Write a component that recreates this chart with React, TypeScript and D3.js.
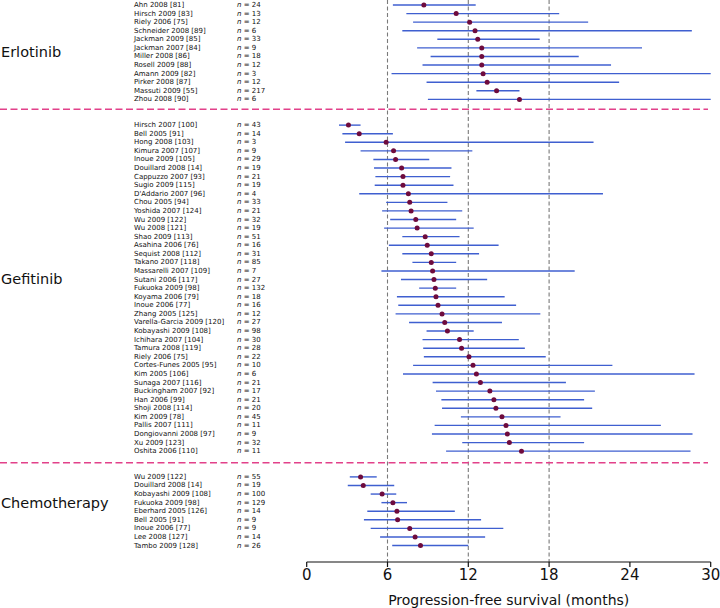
import React from "react";
import * as d3 from "d3";

const erlotinibStudies = ["Ahn 2008 [81]", "Hirsch 2009 [83]", "Riely 2006 [75]", "Schneider 2008 [89]", "Jackman 2009 [85]", "Jackman 2007 [84]", "Miller 2008 [86]", "Rosell 2009 [88]", "Amann 2009 [82]", "Pirker 2008 [87]", "Massuti 2009 [55]", "Zhou 2008 [90]"];
const erlotinibN = [24, 13, 12, 6, 33, 9, 18, 12, 3, 12, 217, 6];
const erlotinibPFS = [8.7, 11.1, 12.1, 12.5, 12.7, 13.0, 13.0, 13.0, 13.1, 13.4, 14.1, 15.8];
const erlotinibLow = [6.4, 7.4, 7.9, 7.1, 9.7, 8.2, 9.2, 8.6, 6.3, 8.9, 12.6, 9.0];
const erlotinibHigh = [12.55, 18.75, 20.9, 28.6, 17.3, 24.9, 20.2, 22.6, 30, 23.2, 15.8, 30];

const gefitinibStudies = ["Hirsch 2007 [100]", "Bell 2005 [91]", "Hong 2008 [103]", "Kimura 2007 [107]", "Inoue 2009 [105]", "Douillard 2008 [14]", "Cappuzzo 2007 [93]", "Sugio 2009 [115]", "D'Addario 2007 [96]", "Chou 2005 [94]", "Yoshida 2007 [124]", "Wu 2009 [122]", "Wu 2008 [121]", "Shao 2009 [113]", "Asahina 2006 [76]", "Sequist 2008 [112]", "Takano 2007 [118]", "Massarelli 2007 [109]", "Sutani 2006 [117]", "Fukuoka 2009 [98]", "Koyama 2006 [79]", "Inoue 2006 [77]", "Zhang 2005 [125]", "Varella-Garcia 2009 [120]", "Kobayashi 2009 [108]", "Ichihara 2007 [104]", "Tamura 2008 [119]", "Riely 2006 [75]", "Cortes-Funes 2005 [95]", "Kim 2005 [106]", "Sunaga 2007 [116]", "Buckingham 2007 [92]", "Han 2006 [99]", "Shoji 2008 [114]", "Kim 2009 [78]", "Pallis 2007 [111]", "Dongiovanni 2008 [97]", "Xu 2009 [123]", "Oshita 2006 [110]"];
const gefitinibN = [43, 14, 3, 9, 29, 19, 21, 19, 4, 33, 21, 32, 19, 51, 16, 31, 85, 7, 27, 132, 18, 16, 12, 27, 98, 30, 28, 22, 10, 6, 21, 17, 21, 20, 45, 11, 9, 32, 11];
const gefitinibPFS = [3.1, 3.9, 5.9, 6.45, 6.6, 7.05, 7.15, 7.15, 7.55, 7.65, 7.75, 8.1, 8.2, 8.8, 8.95, 9.25, 9.25, 9.35, 9.45, 9.55, 9.6, 9.75, 10.05, 10.25, 10.45, 11.35, 11.5, 12.05, 12.35, 12.6, 12.9, 13.6, 13.9, 14.05, 14.5, 14.8, 14.9, 15.05, 15.95];
const gefitinibLow = [2.4, 2.65, 2.85, 4.0, 4.95, 5.0, 5.1, 5.05, 3.9, 5.9, 5.6, 6.2, 5.75, 7.1, 6.1, 7.1, 7.85, 5.55, 7.0, 8.35, 6.7, 6.8, 6.6, 7.6, 8.9, 8.6, 8.65, 8.7, 7.9, 7.15, 9.35, 9.6, 10.0, 10.05, 11.45, 9.5, 9.3, 11.55, 10.35];
const gefitinibHigh = [4.0, 6.4, 21.3, 12.3, 9.1, 10.75, 10.65, 10.9, 22.0, 10.45, 11.55, 11.1, 12.4, 11.35, 14.25, 12.8, 11.1, 19.9, 13.4, 11.1, 14.7, 15.55, 17.35, 14.5, 12.4, 15.75, 16.2, 17.75, 22.7, 28.8, 19.25, 21.4, 20.6, 21.2, 18.85, 26.3, 28.65, 20.6, 28.5];

const chemoStudies = ["Wu 2009 [122]", "Douillard 2008 [14]", "Kobayashi 2009 [108]", "Fukuoka 2009 [98]", "Eberhard 2005 [126]", "Bell 2005 [91]", "Inoue 2006 [77]", "Lee 2008 [127]", "Tambo 2009 [128]"];
const chemoN = [55, 19, 100, 129, 14, 9, 9, 14, 26];
const chemoPFS = [4.0, 4.2, 5.6, 6.4, 6.7, 6.75, 7.65, 8.05, 8.45];
const chemoLow = [3.2, 3.05, 4.75, 5.55, 4.5, 4.25, 4.75, 5.45, 6.35];
const chemoHigh = [5.2, 6.5, 6.65, 7.45, 11.0, 12.95, 14.6, 13.25, 12.0];

const groupNames = ["Erlotinib", "Gefitinib", "Chemotherapy"];
const xTicks = [0, 6, 12, 18, 24, 30];
const refLines = [6, 12, 18];
const axisTitle = "Progression-free survival (months)";

type Row = { study: string; n: number; pfs: number; lo: number; hi: number; slot: number };

const groupsRaw = [
  { studies: erlotinibStudies, n: erlotinibN, pfs: erlotinibPFS, lo: erlotinibLow, hi: erlotinibHigh },
  { studies: gefitinibStudies, n: gefitinibN, pfs: gefitinibPFS, lo: gefitinibLow, hi: gefitinibHigh },
  { studies: chemoStudies, n: chemoN, pfs: chemoPFS, lo: chemoLow, hi: chemoHigh },
];

const rows: Row[] = [];
const groupInfo: { name: string; first: number; last: number }[] = [];
{
  let slot = 0;
  groupsRaw.forEach((g, gi) => {
    const first = slot;
    g.studies.forEach((s, i) => {
      rows.push({ study: s, n: g.n[i], pfs: g.pfs[i], lo: g.lo[i], hi: g.hi[i], slot });
      slot++;
    });
    groupInfo.push({ name: groupNames[gi], first, last: slot - 1 });
    slot += 2;
  });
}
const totalSlots = rows[rows.length - 1].slot;

export default function App() {
  const W = 720, H = 608;
  const x = d3.scaleLinear().domain([0, 30]).range([306.7, 710.7]);
  const y = d3.scaleLinear().domain([0, totalSlots]).range([5, 5 + totalSlots * 8.58]);
  const step = y(1) - y(0);
  const axisY = 562;
  const font = "'DejaVu Sans', Verdana, sans-serif";
  const labelSlotOffsets = [0, -1.05, -1.0];
  const sepOffsets = [1.16, 1.35];

  return (
    <svg width={W} height={H} style={{ position: "absolute", left: 0, top: 0, background: "#fff" }} fontFamily={font}>
      {refLines.map((v) => (
        <line key={v} x1={x(v)} x2={x(v)} y1={0} y2={axisY} stroke="#7a7a7a" strokeWidth={1.1} strokeDasharray="4,2.5" />
      ))}
      {groupInfo.slice(0, 2).map((g, i) => (
        <line key={g.name} x1={0} x2={708} y1={y(g.last) + sepOffsets[i] * step} y2={y(g.last) + sepOffsets[i] * step}
          stroke="#e2418a" strokeWidth={1.5} strokeDasharray="7,3.5" />
      ))}
      {groupInfo.map((g, i) => (
        <text key={g.name} x={1} y={y((g.first + g.last) / 2 + labelSlotOffsets[i])} dominantBaseline="central"
          fontSize={14.5} fill="#111">{g.name}</text>
      ))}
      {rows.map((r, i) => (
        <g key={i}>
          <text x={134} y={y(r.slot)} dominantBaseline="central" fontSize={7} fill="#111">{r.study}</text>
          <text x={237} y={y(r.slot)} dominantBaseline="central" fontSize={7} fill="#111">
            <tspan fontStyle="italic">n</tspan>{` = ${r.n}`}
          </text>
          <line x1={x(r.lo)} x2={x(r.hi)} y1={y(r.slot)} y2={y(r.slot)} stroke="#3f5fd0" strokeWidth={1.4} />
          <circle cx={x(r.pfs)} cy={y(r.slot)} r={2.5} fill="#6e0b3d" />
        </g>
      ))}
      <line x1={x(0)} x2={x(30)} y1={axisY} y2={axisY} stroke="#111" strokeWidth={1.2} />
      {xTicks.map((t) => (
        <g key={t}>
          <line x1={x(t)} x2={x(t)} y1={axisY} y2={axisY + 5} stroke="#111" strokeWidth={1.2} />
          <text x={x(t)} y={axisY + 13} textAnchor="middle" dominantBaseline="central" fontSize={15} fill="#111">{t}</text>
        </g>
      ))}
      <text x={(x(0) + x(30)) / 2} y={600} textAnchor="middle" dominantBaseline="central" fontSize={14} fill="#111">{axisTitle}</text>
    </svg>
  );
}
